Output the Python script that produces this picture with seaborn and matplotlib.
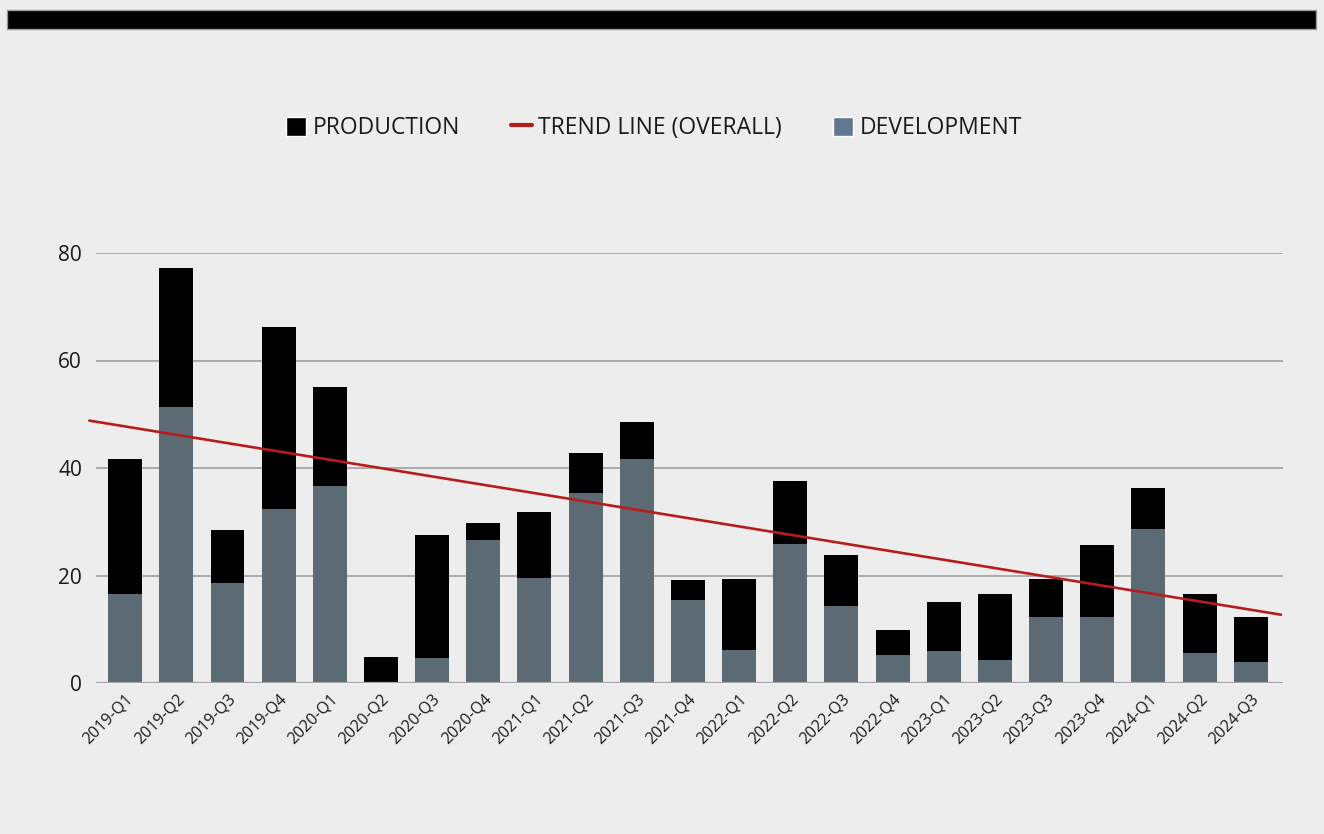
import numpy as np
import pandas as pd
import seaborn as sns
import matplotlib
matplotlib.use('Agg')
import matplotlib.pyplot as plt
from matplotlib.patches import Patch, Rectangle
from matplotlib.lines import Line2D

# quarterly counts
quarters = ['2019-Q1', '2019-Q2', '2019-Q3', '2019-Q4',
            '2020-Q1', '2020-Q2', '2020-Q3', '2020-Q4',
            '2021-Q1', '2021-Q2', '2021-Q3', '2021-Q4',
            '2022-Q1', '2022-Q2', '2022-Q3', '2022-Q4',
            '2023-Q1', '2023-Q2', '2023-Q3', '2023-Q4',
            '2024-Q1', '2024-Q2', '2024-Q3']
development = [16.6, 51.4, 18.6, 32.3, 36.7, 0.0, 4.7, 26.6,
               19.6, 35.4, 41.7, 15.5, 6.2, 25.9, 14.4, 5.2,
               6.0, 4.3, 12.2, 12.2, 28.6, 5.6, 3.9]
production = [25.1, 25.8, 9.8, 33.9, 18.3, 4.9, 22.8, 3.1,
              12.3, 7.4, 6.9, 3.7, 13.2, 11.7, 9.5, 4.7,
              9.1, 12.2, 7.2, 13.5, 7.7, 10.9, 8.3]
y_ticks = [0, 20, 40, 60, 80]

df = pd.DataFrame({'quarter': quarters,
                   'development': development,
                   'production': production})
df['total'] = df['development'] + df['production']

bg = '#ededed'
dev_color = '#5b6a73'
dev_legend = '#617790'
red = '#b71c1c'

sns.set_theme(style='white')
plt.rcParams['font.family'] = ['Open Sans', 'DejaVu Sans']

fig = plt.figure(figsize=(13.24, 8.34), dpi=100, facecolor=bg)
ax = fig.add_axes([96/1324, 1-683/834, (1283-96)/1324, (683-253)/834])
ax.set_facecolor(bg)

# top black band
fig.patches.append(Rectangle((7/1324, 1-29/834), (1316-7)/1324, 19/834,
                             transform=fig.transFigure,
                             facecolor='black', edgecolor='#999999', lw=1))

# stacked bars: total in black, development on top of it
sns.barplot(data=df, x='quarter', y='total', color='black', width=0.664,
            saturation=1, linewidth=0, edgecolor='none', ax=ax, zorder=2)
sns.barplot(data=df, x='quarter', y='development', color=dev_color, width=0.664,
            saturation=1, linewidth=0, edgecolor='none', ax=ax, zorder=3)

# overall trend (least squares on the totals)
xs = np.arange(len(quarters))
slope, icpt = np.polyfit(xs, df['total'], 1)
x_line = np.array([-0.70, 22.59])
ax.plot(x_line, slope*x_line + icpt, color=red, lw=1.9, zorder=4, clip_on=False)

ax.set_xlim(-0.57, 22.63)
ax.set_ylim(0, 80)
ax.set_yticks(y_ticks)
ax.yaxis.grid(True, color='#a6a6a6', lw=1.3, zorder=0)
ax.set_axisbelow(True)
for s in ax.spines.values():
    s.set_visible(False)
ax.axhline(0, color='#a6a6a6', lw=1.6, zorder=5)

ax.set_xlabel('')
ax.set_ylabel('')
ax.tick_params(axis='y', labelsize=15, colors='#1a1a1a', length=0, pad=10)
ax.tick_params(axis='x', labelsize=11.5, colors='#1a1a1a', length=0, pad=6)
plt.setp(ax.get_xticklabels(), rotation=45, ha='right', rotation_mode='anchor')

handles = [Patch(facecolor='black', label='PRODUCTION'),
           Line2D([0], [0], color=red, lw=3, label='TREND LINE (OVERALL)'),
           Patch(facecolor=dev_legend, label='DEVELOPMENT')]
fig.legend(handles=handles, loc='center', bbox_to_anchor=(0.494, 1-128/834), ncol=3,
           frameon=False, fontsize=16.5, handlelength=0.9, handleheight=0.9,
           handletextpad=0.3, columnspacing=2.2, labelcolor='#1a1a1a')

fig.savefig('out.png', dpi=100, facecolor=bg)
